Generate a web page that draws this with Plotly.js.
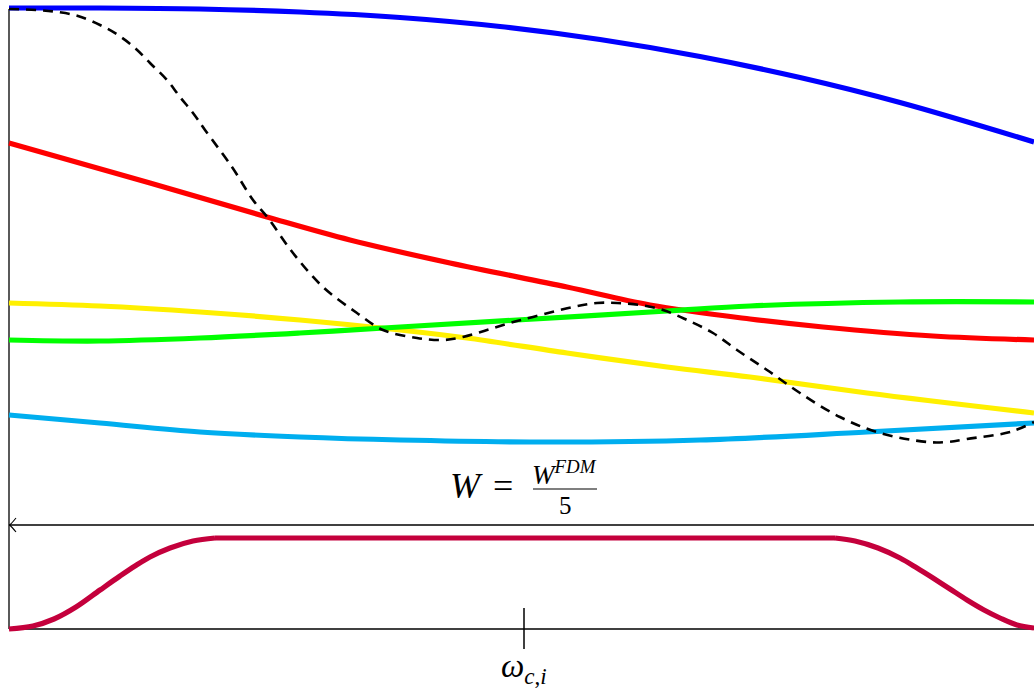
<!DOCTYPE html>
<html>
<head>
<meta charset="utf-8">
<script src="https://cdn.plot.ly/plotly-3.0.1.min.js"></script>
<style>
  html, body { margin: 0; padding: 0; background: #ffffff; }
  #chart { width: 1034px; height: 693px; }
</style>
</head>
<body>
<div id="chart"></div>
<script>
// Frequency axis runs from 0 (left edge) to 1025; amplitudes are measured
// upward from the baseline of the window panel.

// Response curves of the filter bank
const blueX   = [0, 91, 191, 291, 391, 491, 591, 691, 791, 891, 1025];
const blueY   = [621, 621, 620, 617, 611.5, 602.5, 589.5, 572.5, 551.5, 526.5, 487];

const redX    = [0, 141, 258, 341, 441, 558, 641, 741, 814, 924, 1025];
const redY    = [486, 446, 412, 389, 366, 342, 324, 310, 302, 293, 289];

const yellowX = [0, 91, 191, 291, 391, 458, 558, 658, 741, 858, 1025];
const yellowY = [326, 323, 317, 309, 299, 291, 276, 262, 252, 236, 216];

const greenX  = [0, 91, 191, 291, 391, 508, 658, 741, 891, 1025];
const greenY  = [289, 288, 291, 296, 302, 309, 318, 323, 327, 327];

const cyanX   = [0, 91, 191, 291, 391, 541, 691, 858, 1025];
const cyanY   = [214, 206, 197, 192, 189, 187, 189, 197, 206];

// Reference (target) response, dashed
const refX = [0, 28, 49, 69, 91, 109, 126, 141, 158, 171, 184, 196, 223, 244, 259, 284,
              314, 348, 374, 408, 434, 454, 478, 501, 524, 564, 588, 608, 631, 654, 678,
              704, 728, 758, 791, 831, 871, 918, 938, 958, 1001, 1025];
const refY = [620, 619, 617, 613, 604, 594, 581, 566, 549, 532, 516, 499, 462, 429, 411, 376,
              342, 316, 299, 291, 289, 292, 299, 306, 312, 322, 326, 326, 324, 319, 309,
              296, 279, 259, 236, 212, 196, 187, 187, 190, 197, 207];

// Window function W = W^FDM / 5: rising edge, flat top, falling edge
const winRiseX = [0, 24, 45, 67, 91, 111, 126, 141, 161, 184, 206];
const winRiseY = [0, 3, 10, 22, 39, 53, 63, 72, 81, 88, 91];
const winTopX  = [206, 826];
const winTopY  = [91, 91];
const winFallX = [826, 846, 869, 891, 908, 924, 941, 958, 975, 991, 1008, 1025];
const winFallY = [91, 88, 81, 71, 61, 51, 40, 29, 19, 11, 4, 1];

// Layout constants
const centreFreq = 515;     // position of the omega_{c,i} tick
const windowTop = 104;      // level of the arrowed line above the window

const lineW = 5.2;
const curve = (x, y, color, shape) => ({
  x: x, y: y, type: 'scatter', mode: 'lines',
  line: { color: color, width: lineW, shape: shape, smoothing: 1 },
  hoverinfo: 'skip', showlegend: false
});

const traces = [
  curve(blueX,   blueY,   '#0000ff', 'spline'),
  curve(redX,    redY,    '#ff0000', 'spline'),
  curve(yellowX, yellowY, '#fff000', 'spline'),
  curve(greenX,  greenY,  '#00ff00', 'spline'),
  curve(cyanX,   cyanY,   '#00aeef', 'spline'),
  curve(winRiseX, winRiseY, '#c4003c', 'spline'),
  curve(winTopX,  winTopY,  '#c4003c', 'linear'),
  curve(winFallX, winFallY, '#c4003c', 'spline')
];

traces.push({
  x: refX, y: refY, type: 'scatter', mode: 'lines',
  line: { color: '#000000', width: 2.6, dash: '10px,7px', shape: 'spline', smoothing: 1 },
  hoverinfo: 'skip', showlegend: false
});

const axisLine = { color: '#000000', width: 1.3 };
const shapes = [
  // vertical axis
  { type: 'line', xref: 'x', yref: 'y', x0: 0, x1: 0, y0: 0, y1: 620, line: axisLine, layer: 'below' },
  // baseline of window panel
  { type: 'line', xref: 'x', yref: 'y', x0: 0, x1: 1025, y0: 0, y1: 0, line: axisLine, layer: 'below' },
  // arrowed line above the window
  { type: 'line', xref: 'x', yref: 'y', x0: 0, x1: 1025, y0: windowTop, y1: windowTop, line: axisLine, layer: 'below' },
  { type: 'path', xref: 'x', yref: 'y',
    path: 'M 7,111 Q 3,106 0.6,' + windowTop + ' Q 3,' + (windowTop - 2) + ' 7,97',
    line: { color: '#000000', width: 1.1 } },
  // centre frequency tick
  { type: 'line', xref: 'x', yref: 'y', x0: centreFreq, x1: centreFreq, y0: 21, y1: -20,
    line: { color: '#000000', width: 1.5 } },
  // fraction bar of W^FDM / 5
  { type: 'line', xref: 'x', yref: 'y', x0: 524, x1: 588, y0: 140, y1: 140,
    line: { color: '#000000', width: 1.1 } }
];

const serif = 'Liberation Serif';
const annotations = [
  { x: 457, y: 143, xref: 'x', yref: 'y', text: '<i>W</i>', showarrow: false,
    font: { family: serif, size: 36, color: '#000' }, xanchor: 'center', yanchor: 'middle' },
  { x: 494, y: 143, xref: 'x', yref: 'y', text: '=', showarrow: false,
    font: { family: serif, size: 36, color: '#000' }, xanchor: 'center', yanchor: 'middle' },
  { x: 555, y: 156, xref: 'x', yref: 'y', text: '<i>W</i><sup><i>FDM</i></sup>', showarrow: false,
    font: { family: serif, size: 27, color: '#000' }, xanchor: 'center', yanchor: 'middle' },
  { x: 556, y: 124, xref: 'x', yref: 'y', text: '5', showarrow: false,
    font: { family: serif, size: 25, color: '#000' }, xanchor: 'center', yanchor: 'middle' },
  { x: centreFreq, y: -39, xref: 'x', yref: 'y', text: '<i>ω</i><sub><i>c</i>,<i>i</i></sub>', showarrow: false,
    font: { family: serif, size: 33, color: '#000' }, xanchor: 'center', yanchor: 'middle' }
];

const layout = {
  width: 1034, height: 693,
  margin: { l: 0, r: 0, t: 0, b: 0, pad: 0 },
  paper_bgcolor: '#ffffff', plot_bgcolor: '#ffffff',
  xaxis: { range: [-9, 1025], visible: false, fixedrange: true },
  yaxis: { range: [-64, 629], visible: false, fixedrange: true },
  shapes: shapes,
  annotations: annotations,
  showlegend: false
};

Plotly.newPlot('chart', traces, layout, { displayModeBar: false, staticPlot: true });
</script>
</body>
</html>
